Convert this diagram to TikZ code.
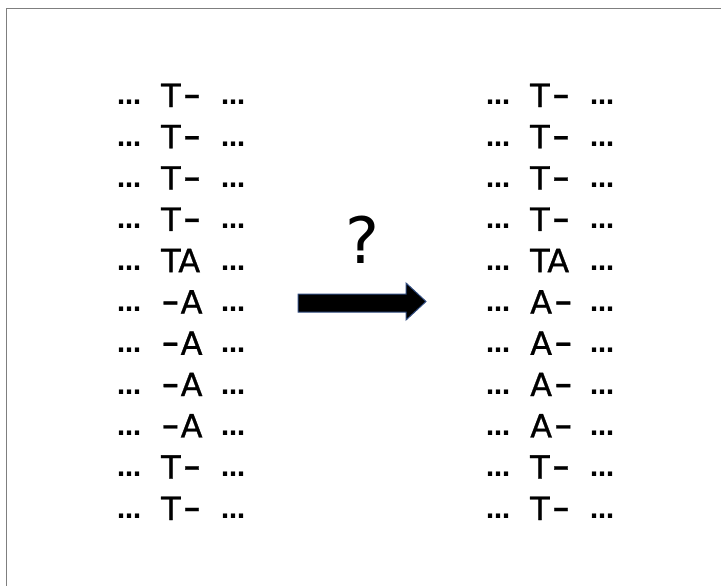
\documentclass[tikz,border=0pt]{standalone}
\usepackage{fontspec}
\usepackage{graphicx}
\setmainfont{DejaVu Sans}
\newfontfamily\seqfont[FakeBold=0.8]{DejaVu Sans}
\newcommand{\dsh}{\scalebox{1.6}[1.2]{-}}
\definecolor{arrowblue}{HTML}{2F4B7F}
\definecolor{framegray}{HTML}{7F7F7F}
\begin{document}
\begin{tikzpicture}[x=1pt,y=-1pt,
  seq/.style={anchor=base west, inner sep=0pt, font=\seqfont\fontsize{32}{32}\selectfont},
  dotsym/.style={anchor=base, inner sep=0pt, font=\bfseries\fontsize{24}{24}\selectfont},
  frameline/.style={draw=framegray, line width=1pt},
  blockarrow/.style={draw=arrowblue, fill=black, line width=1pt, line join=miter}]
\useasboundingbox (0,0) rectangle (721,586);
\draw[frameline] (721,9) -- (6,9) -- (6,586);
\foreach \t [count=\i] in {T\hspace{2pt}\dsh,T\hspace{2pt}\dsh,T\hspace{2pt}\dsh,T\hspace{2pt}\dsh,TA,\dsh\hspace{1pt}A,\dsh\hspace{1pt}A,\dsh\hspace{1pt}A,\dsh\hspace{1pt}A,T\hspace{2pt}\dsh,T\hspace{2pt}\dsh} {
  \pgfmathsetmacro\yb{107+41.3*(\i-1)}
  \node[dotsym] (ll\i) at (129,\yb-2) {…};
  \node[seq] (lm\i) at (161,\yb) {\t};
  \node[dotsym] (lr\i) at (233,\yb-2) {…};
}
\foreach \t [count=\i] in {T\hspace{2pt}\dsh,T\hspace{2pt}\dsh,T\hspace{2pt}\dsh,T\hspace{2pt}\dsh,TA,A\hspace{2pt}\dsh,A\hspace{2pt}\dsh,A\hspace{2pt}\dsh,A\hspace{2pt}\dsh,T\hspace{2pt}\dsh,T\hspace{2pt}\dsh} {
  \pgfmathsetmacro\yb{107+41.3*(\i-1)}
  \node[dotsym] (rl\i) at (498,\yb-2) {…};
  \node[seq] (rm\i) at (530,\yb) {\t};
  \node[dotsym] (rr\i) at (602,\yb-2) {…};
}
\node[anchor=base, inner sep=0pt, font=\fontsize{64}{64}\selectfont] (q) at (362,263) {?};
\draw[blockarrow] (298,294) -- (406,294) -- (406,283) -- (426,301.5) -- (406,320) -- (406,312) -- (298,312) -- cycle;
\end{tikzpicture}
\end{document}
